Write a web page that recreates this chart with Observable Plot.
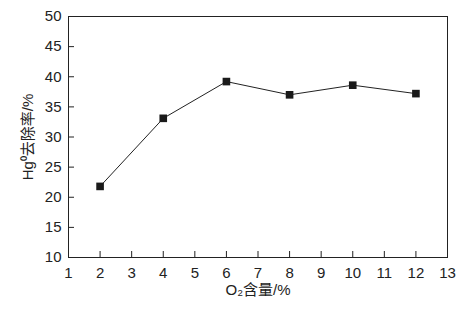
<!DOCTYPE html>
<html><head><meta charset="utf-8">
<script src="https://cdn.jsdelivr.net/npm/d3@7"></script>
<script src="https://cdn.jsdelivr.net/npm/@observablehq/plot@0.6"></script>
<style>body{margin:0;background:#fff}</style>
</head><body><div id="chart"></div>
<script>
const o2 = [2, 4, 6, 8, 10, 12];
const removal = [21.8, 33.1, 39.2, 37.0, 38.6, 37.2];
const xTicks = [1,2,3,4,5,6,7,8,9,10,11,12,13];
const yTicks = [10,15,20,25,30,35,40,45,50];
const xTitle = "O₂含量/%";
const yTitle = "Hg⁰去除率/%";

const data = o2.map((x, i) => ({x, y: removal[i]}));
const font = "'Liberation Sans', Arial, 'Noto Sans CJK SC', sans-serif";

const chart = Plot.plot({
  width: 471, height: 311,
  marginLeft: 68, marginRight: 24, marginTop: 16, marginBottom: 54,
  style: {fontFamily: font, fontSize: "15px", color: "#222", background: "#fff"},
  x: {domain: [1, 13], ticks: xTicks},
  y: {domain: [10, 50], ticks: yTicks},
  marks: [
    Plot.frame({stroke: "#222", strokeWidth: 1}),
    Plot.axisX({ticks: xTicks, tickSize: -6, tickPadding: 16, label: null, fontSize: 15, stroke: "#222", fill: "#222"}),
    Plot.axisY({ticks: yTicks, tickSize: -6, tickPadding: 13, fontSize: 15, stroke: "#222", fill: "#222", label: null}),
    Plot.line(data, {x: "x", y: "y", stroke: "#222", strokeWidth: 1}),
    Plot.dot(data, {x: "x", y: "y", symbol: "square", r: 4.3, fill: "#1a1a1a", stroke: "none"}),
    Plot.text([xTitle], {frameAnchor: "bottom", textAnchor: "middle", dy: 37, fontSize: 15, fill: "#222"}),
    Plot.text([yTitle], {frameAnchor: "middle", textAnchor: "middle", dx: -230, rotate: -90, fontSize: 15, fill: "#222"})
  ]
});
document.getElementById("chart").appendChild(chart);
</script></body></html>
